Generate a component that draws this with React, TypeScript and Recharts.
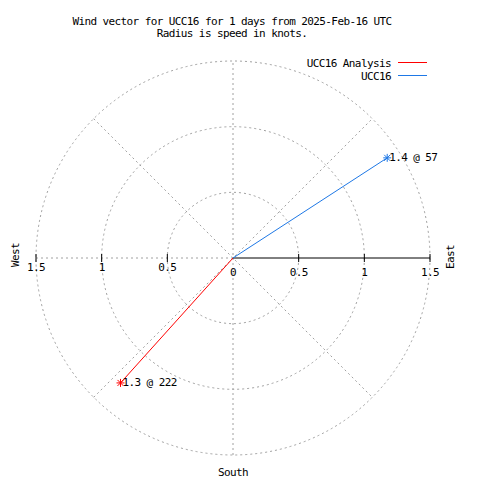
import React from 'react';
import {
  ScatterChart,
  Scatter,
  XAxis,
  YAxis,
  ReferenceLine,
  ReferenceArea,
  ReferenceDot,
} from 'recharts';

// ---- data ----
const seriesNames = ['UCC16 Analysis', 'UCC16'];
const seriesColors = ['#ff0000', '#1e78e6'];
const speeds = [1.28, 1.4];
const directions = [222, 57];
const ringRadii = [0.5, 1, 1.5];
const axisTicks = [0.5, 1, 1.5];
const axisTickLabels = ['0.5', '1', '1.5'];
const maxRadius = 1.5;
const titleLines = [
  'Wind vector for UCC16 for 1 days from 2025-Feb-16 UTC',
  'Radius is speed in knots.',
];
const sideLabels = ['West', 'East', 'South'];

const FONT = "'DejaVu Sans Mono', 'Liberation Mono', monospace";
const GRID = '#a0a0a0';
const DASH = '2 3';

const vectorData = speeds.map((s, i) => {
  const rad = (directions[i] * Math.PI) / 180;
  return [
    { x: 0, y: 0, tip: false, label: '' },
    {
      x: s * Math.sin(rad),
      y: s * Math.cos(rad),
      tip: true,
      label: `${s.toFixed(1)} @ ${directions[i]}`,
    },
  ];
});

const diag = maxRadius * Math.SQRT1_2;
const spokeSegments = [
  [{ x: -diag, y: -diag }, { x: diag, y: diag }],
  [{ x: -diag, y: diag }, { x: diag, y: -diag }],
  [{ x: 0, y: -maxRadius }, { x: 0, y: maxRadius }],
  [{ x: -maxRadius, y: 0 }, { x: 0, y: 0 }],
];

const textStyle = { fontFamily: FONT, fontSize: 11, letterSpacing: -0.6 } as const;

const RingShape = (props: any) => {
  const { x, y, width, height } = props;
  const cx = x + width / 2;
  const cy = y + height / 2;
  return (
    <ellipse
      cx={cx}
      cy={cy}
      rx={Math.abs(width) / 2}
      ry={Math.abs(height) / 2}
      fill="none"
      stroke={GRID}
      strokeDasharray={DASH}
    />
  );
};

const makeTick = (label: string, side: 'east' | 'west' | 'center') => (props: any) => {
  const { cx, cy } = props;
  const dy = side === 'west' ? 13 : 18;
  return (
    <g>
      {side !== 'center' && (
        <line x1={cx} x2={cx} y1={cy - 4} y2={cy + 4} stroke="#000" />
      )}
      <text x={cx} y={cy + dy} textAnchor="middle" fill="#000" style={textStyle}>
        {label}
      </text>
    </g>
  );
};

const makeShape = (color: string) => (props: any) => {
  const { cx, cy, payload } = props;
  if (!payload || !payload.tip) return <g />;
  const r = 4;
  return (
    <g>
      <line x1={cx - r} x2={cx + r} y1={cy} y2={cy} stroke={color} />
      <line x1={cx} x2={cx} y1={cy - r} y2={cy + r} stroke={color} />
      <line x1={cx - 3} x2={cx + 3} y1={cy - 3} y2={cy + 3} stroke={color} />
      <line x1={cx - 3} x2={cx + 3} y1={cy + 3} y2={cy - 3} stroke={color} />
      <text x={cx + 2} y={cy + 3.5} fill="#000" style={textStyle}>
        {payload.label}
      </text>
    </g>
  );
};

export default function App() {
  return (
    <div
      style={{
        position: 'absolute',
        left: 0,
        top: 0,
        width: 480,
        height: 480,
        background: '#fff',
      }}
    >
      <div style={{ position: 'absolute', left: 0, top: 0 }}>
        <ScatterChart
          width={480}
          height={480}
          margin={{ top: 61, right: 50, bottom: 25, left: 36 }}
        >
          <XAxis
            type="number"
            dataKey="x"
            domain={[-maxRadius, maxRadius]}
            tickCount={7}
            hide
          />
          <YAxis
            type="number"
            dataKey="y"
            domain={[-maxRadius, maxRadius]}
            tickCount={7}
            hide
          />
          {ringRadii.map((r) => (
            <ReferenceArea
              key={`ring-${r}`}
              x1={-r}
              x2={r}
              y1={-r}
              y2={r}
              ifOverflow="visible"
              shape={RingShape}
            />
          ))}
          {spokeSegments.map((seg, i) => (
            <ReferenceLine
              key={`spoke-${i}`}
              segment={seg}
              stroke={GRID}
              strokeDasharray={DASH}
              ifOverflow="visible"
            />
          ))}
          <ReferenceLine
            segment={[{ x: 0, y: 0 }, { x: maxRadius, y: 0 }]}
            stroke="#000"
            strokeWidth={1}
            ifOverflow="visible"
          />
          {axisTicks.map((t, i) => (
            <ReferenceDot
              key={`east-${t}`}
              x={t}
              y={0}
              ifOverflow="visible"
              shape={makeTick(axisTickLabels[i], 'east')}
            />
          ))}
          {axisTicks.map((t, i) => (
            <ReferenceDot
              key={`west-${t}`}
              x={-t}
              y={0}
              ifOverflow="visible"
              shape={makeTick(axisTickLabels[i], 'west')}
            />
          ))}
          <ReferenceDot x={0} y={0} ifOverflow="visible" shape={makeTick('0', 'center')} />
          {seriesNames.map((name, i) => (
            <Scatter
              key={name}
              name={name}
              data={vectorData[i]}
              fill={seriesColors[i]}
              line={{ stroke: seriesColors[i], strokeWidth: 1 }}
              shape={makeShape(seriesColors[i])}
              isAnimationActive={false}
            />
          ))}
        </ScatterChart>
      </div>

      <svg
        width={480}
        height={480}
        style={{ position: 'absolute', left: 0, top: 0, pointerEvents: 'none' }}
      >
        <text x={232} y={25} textAnchor="middle" fill="#000" style={textStyle}>
          {titleLines[0]}
        </text>
        <text x={232} y={37} textAnchor="middle" fill="#000" style={textStyle}>
          {titleLines[1]}
        </text>
        {seriesNames.map((name, i) => (
          <g key={name}>
            <text x={391} y={67 + i * 13} textAnchor="end" fill="#000" style={textStyle}>
              {name}
            </text>
            <line
              x1={398}
              x2={427}
              y1={62.5 + i * 13}
              y2={62.5 + i * 13}
              stroke={seriesColors[i]}
            />
          </g>
        ))}
        <text
          x={19}
          y={255}
          textAnchor="middle"
          fill="#000"
          style={textStyle}
          transform="rotate(-90 19 255)"
        >
          {sideLabels[0]}
        </text>
        <text
          x={454}
          y={257}
          textAnchor="middle"
          fill="#000"
          style={textStyle}
          transform="rotate(-90 454 257)"
        >
          {sideLabels[1]}
        </text>
        <text x={233} y={476} textAnchor="middle" fill="#000" style={textStyle}>
          {sideLabels[2]}
        </text>
      </svg>
    </div>
  );
}
